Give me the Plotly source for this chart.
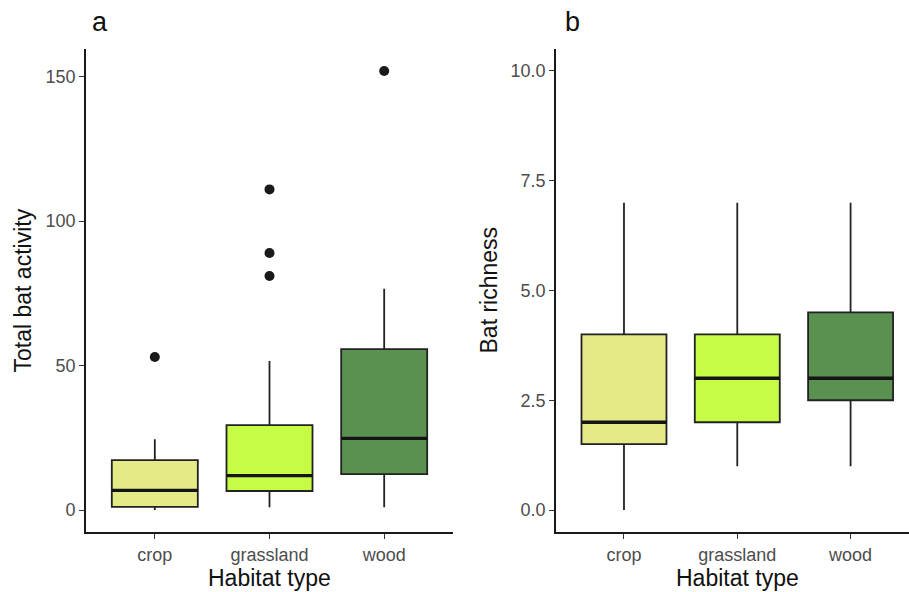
import plotly.graph_objects as go

# ---- data ----
categories = ["crop", "grassland", "wood"]
colors = ["#E4EA85", "#C6FC46", "#5A9151"]

act_lo = [0, 1, 1]
act_q1 = [1.1, 6.6, 12.4]
act_med = [6.8, 11.9, 24.8]
act_q3 = [17.3, 29.4, 55.7]
act_hi = [24.5, 51.6, 76.6]
act_out_cat = ["crop", "grassland", "grassland", "grassland", "wood"]
act_out_val = [53, 111, 89, 81, 152]

rich_lo = [0, 1, 1]
rich_q1 = [1.5, 2, 2.5]
rich_med = [2, 3, 3]
rich_q3 = [4, 4, 4.5]
rich_hi = [7, 7, 7]

act_ticks = [0, 50, 100, 150]
rich_ticks = [0, 2.5, 5, 7.5, 10]

# ---- style ----
W, H = 909, 592
BOXW = 0.75
FONT = "Liberation Sans, Arial, sans-serif"
LINE = "#222222"

pos = {c: i + 1 for i, c in enumerate(categories)}

fig = go.Figure()


def add_panel(xa, ya, lo, q1, med, q3, hi):
    for i, c in enumerate(categories):
        fig.add_trace(go.Box(
            x=[pos[c]], lowerfence=[lo[i]], q1=[q1[i]], median=[med[i]],
            q3=[q3[i]], upperfence=[hi[i]], width=BOXW,
            fillcolor=colors[i], line=dict(color=LINE, width=1.8),
            whiskerwidth=0, boxpoints=False, xaxis=xa, yaxis=ya,
            hoverinfo="skip"))
    mx, my = [], []
    for i, c in enumerate(categories):
        mx += [pos[c] - BOXW / 2, pos[c] + BOXW / 2, None]
        my += [med[i], med[i], None]
    fig.add_trace(go.Scatter(x=mx, y=my, mode="lines",
                             line=dict(color="#151515", width=3.4),
                             xaxis=xa, yaxis=ya, hoverinfo="skip"))


add_panel("x", "y", act_lo, act_q1, act_med, act_q3, act_hi)
fig.add_trace(go.Scatter(x=[pos[c] for c in act_out_cat], y=act_out_val,
                         mode="markers",
                         marker=dict(color="#1A1A1A", size=10),
                         xaxis="x", yaxis="y", hoverinfo="skip"))
add_panel("x2", "y2", rich_lo, rich_q1, rich_med, rich_q3, rich_hi)

# panel geometry (pixels)
L1, R1 = 86, 453
L2, R2 = 556, 909
TOP, BOT = 49, 532

axis_common = dict(showgrid=False, zeroline=False, showline=True,
                   linecolor="#1A1A1A", linewidth=1.8, ticks="outside",
                   ticklen=5, tickwidth=1.4, tickcolor="#333333",
                   tickfont=dict(family=FONT, size=18, color="#4D4D4D"))

ydom = [(H - BOT) / H, (H - TOP) / H]

fig.update_layout(
    width=W, height=H, margin=dict(l=0, r=0, t=0, b=0),
    paper_bgcolor="white", plot_bgcolor="white", showlegend=False,
    xaxis=dict(domain=[L1 / W, R1 / W], range=[0.4, 3.6],
               tickvals=[1, 2, 3], ticktext=categories, anchor="y",
               **axis_common),
    yaxis=dict(domain=ydom, range=[-7.6, 159.6], tickvals=act_ticks,
               anchor="x", **axis_common),
    xaxis2=dict(domain=[L2 / W, R2 / W], range=[0.4, 0.4 + (R2 - L2) / 113.3],
                tickvals=[1, 2, 3], ticktext=categories, anchor="y2",
                **axis_common),
    yaxis2=dict(domain=ydom, range=[-0.5, 10.5], tickvals=rich_ticks,
                tickformat=".1f", anchor="x2", **axis_common),
)

title_font = dict(family=FONT, size=23, color="#111111")
ymid = 1 - ((TOP + BOT) / 2) / H
ann = [
    dict(text="Total bat activity", x=22 / W, y=ymid, textangle=-90,
         font=title_font),
    dict(text="Bat richness", x=488 / W, y=ymid, textangle=-90,
         font=title_font),
    dict(text="Habitat type", x=269 / W, y=1 - 578 / H, font=title_font),
    dict(text="Habitat type", x=737 / W, y=1 - 578 / H, font=title_font),
    dict(text="a", x=100 / W, y=1 - 22 / H,
         font=dict(family=FONT, size=27, color="#111111")),
    dict(text="b", x=572 / W, y=1 - 22 / H,
         font=dict(family=FONT, size=27, color="#111111")),
]
for a in ann:
    a.update(xref="paper", yref="paper", showarrow=False,
             xanchor="center", yanchor="middle")
fig.update_layout(annotations=ann)

fig.write_html("out.html")
